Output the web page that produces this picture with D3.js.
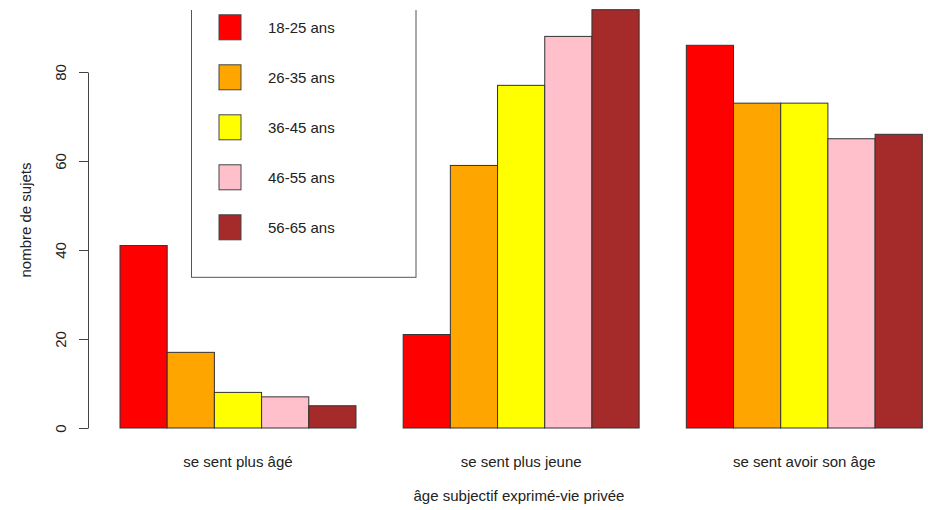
<!DOCTYPE html>
<html>
<head>
<meta charset="utf-8">
<script src="https://cdn.jsdelivr.net/npm/d3@7"></script>
<style>
body { margin: 0; background: #fff; }
svg { display: block; font-family: "Liberation Sans", Arial, sans-serif; }
</style>
</head>
<body>
<svg id="chart" width="928" height="510"></svg>
<script>
const categories = ["se sent plus âgé", "se sent plus jeune", "se sent avoir son âge"];
const ageGroups = ["18-25 ans", "26-35 ans", "36-45 ans", "46-55 ans", "56-65 ans"];
const colors = ["#FF0000", "#FFA500", "#FFFF00", "#FFC0CB", "#A52A2A"];
const s1825 = [41, 21, 86];
const s2635 = [17, 59, 73];
const s3645 = [8, 77, 73];
const s4655 = [7, 88, 65];
const s5665 = [5, 94, 66];
const series = [s1825, s2635, s3645, s4655, s5665];
const yTicks = [0, 20, 40, 60, 80];
const xTitle = "âge subjectif exprimé-vie privée";
const yTitle = "nombre de sujets";

const svg = d3.select("#chart");
const textColor = "#222";
const fs = "15px";

// R barplot beside layout: each group 5 bars, 1 bar space between groups
const x = d3.scaleLinear().domain([0, 17]).range([120, 922.3]);
const y = d3.scaleLinear().domain([0, 80]).range([428, 72]);

const bars = [];
categories.forEach((c, gi) => {
  series.forEach((s, si) => {
    bars.push({ g: gi, s: si, v: s[gi], pos: gi * 6 + si });
  });
});

svg.append("g").selectAll("rect").data(bars).join("rect")
  .attr("x", d => x(d.pos))
  .attr("width", d => x(d.pos + 1) - x(d.pos))
  .attr("y", d => y(d.v))
  .attr("height", d => y(0) - y(d.v))
  .attr("fill", d => colors[d.s])
  .attr("stroke", "#333")
  .attr("stroke-width", 1);

// Y axis
const yAxis = svg.append("g")
  .attr("transform", "translate(88,0)")
  .call(d3.axisLeft(y).tickValues(yTicks).tickSize(9).tickSizeOuter(0).tickFormat(d3.format("d")));
yAxis.select(".domain").attr("stroke", "#444");
yAxis.selectAll(".tick line").attr("stroke", "#444");
yAxis.selectAll(".tick text")
  .attr("x", 0).attr("dy", null)
  .attr("transform", "translate(-26,0) rotate(-90)")
  .attr("text-anchor", "middle")
  .attr("dominant-baseline", "middle")
  .attr("fill", textColor)
  .style("font-size", fs)
  .style("font-family", "'Liberation Sans', Arial, sans-serif");

// Category labels
svg.append("g").selectAll("text").data(categories).join("text")
  .attr("x", (d, i) => x(i * 6 + 2.5))
  .attr("y", 463)
  .attr("text-anchor", "middle")
  .attr("dominant-baseline", "middle")
  .attr("fill", textColor)
  .style("font-size", fs)
  .text(d => d);

// Axis titles
svg.append("text")
  .attr("x", 519).attr("y", 497)
  .attr("text-anchor", "middle")
  .attr("dominant-baseline", "middle")
  .attr("fill", textColor)
  .style("font-size", fs)
  .text(xTitle);

svg.append("text")
  .attr("transform", "translate(27,220) rotate(-90)")
  .attr("text-anchor", "middle")
  .attr("dominant-baseline", "middle")
  .attr("fill", textColor)
  .style("font-size", fs)
  .text(yTitle);

// Legend (clipped at top of plotting region)
svg.append("clipPath").attr("id", "plotclip")
  .append("rect").attr("x", 0).attr("y", 10).attr("width", 928).attr("height", 500);
const legend = svg.append("g").attr("clip-path", "url(#plotclip)");
legend.append("rect")
  .attr("x", 191.5).attr("y", -20)
  .attr("width", 224.5).attr("height", 297.3)
  .attr("fill", "#fff")
  .attr("stroke", "#555")
  .attr("stroke-width", 1);
const items = legend.selectAll("g.item").data(ageGroups).join("g")
  .attr("class", "item")
  .attr("transform", (d, i) => `translate(0,${27.3 + i * 50})`);
items.append("rect")
  .attr("x", 219).attr("y", -12.5)
  .attr("width", 22).attr("height", 25)
  .attr("fill", (d, i) => colors[i])
  .attr("stroke", "#444");
items.append("text")
  .attr("x", 268).attr("y", 1.5)
  .attr("dominant-baseline", "middle")
  .attr("fill", textColor)
  .style("font-size", fs)
  .text(d => d);
</script>
</body>
</html>
